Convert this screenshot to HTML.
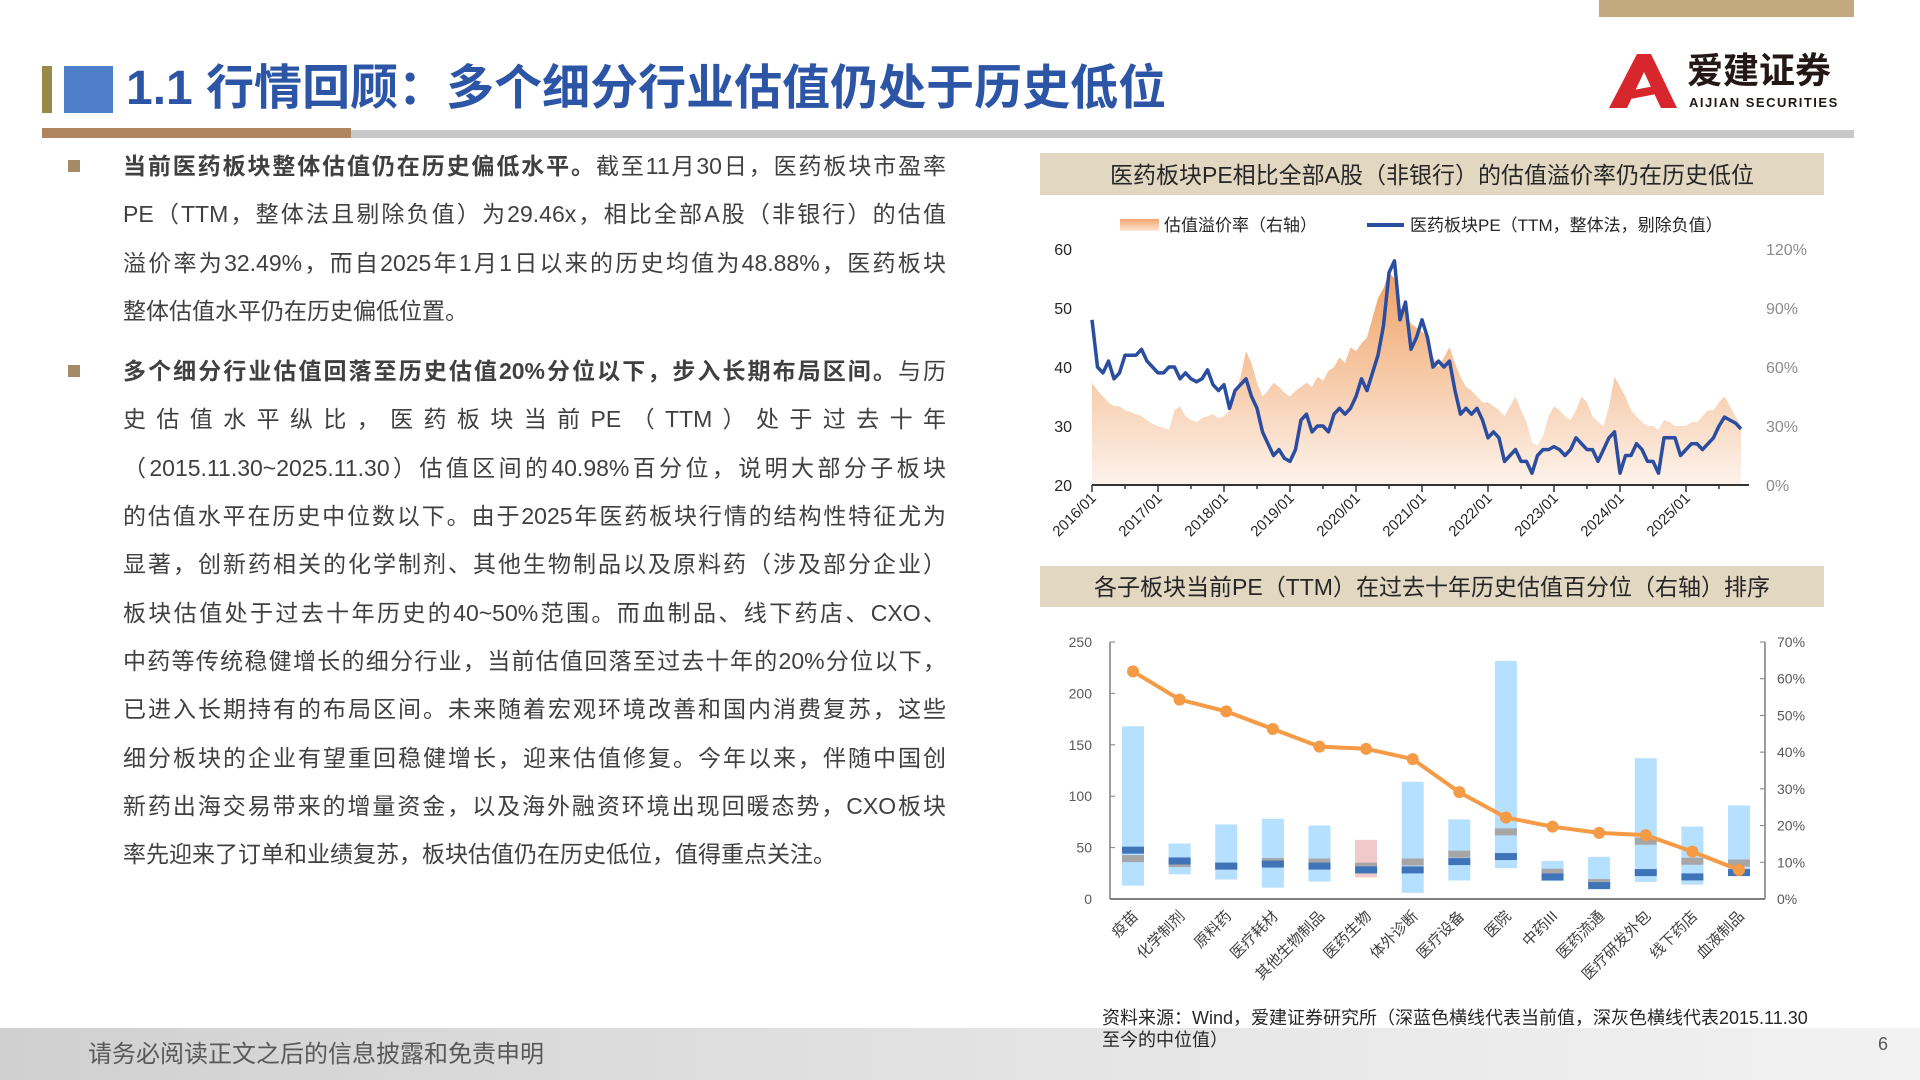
<!DOCTYPE html>
<html><head><meta charset="utf-8">
<style>
html,body{margin:0;padding:0;}
body{width:1920px;height:1080px;position:relative;overflow:hidden;background:#fff;font-family:"Liberation Sans","Noto Sans CJK SC",sans-serif;}
.abs{position:absolute;}
.line{position:absolute;left:123px;width:823px;font-size:23px;color:#404040;white-space:nowrap;text-align:justify;text-align-last:justify;line-height:30px;}
.line.last{text-align-last:left;}
.bul{position:absolute;left:68px;width:12px;height:12px;background:#a58a68;}
b{color:#404040;}
</style></head><body>
<div class="abs" style="left:1599px;top:0;width:255px;height:17px;background:#c3a97e"></div>
<div class="abs" style="left:42px;top:66px;width:10px;height:47px;background:#9a8a4a"></div>
<div class="abs" style="left:64px;top:66px;width:49px;height:47px;background:#4f7fc8"></div>
<div class="abs" style="left:126px;top:59px;font-size:48px;font-weight:bold;color:#2c55a6;line-height:60px;white-space:nowrap">1.1 行情回顾：多个细分行业估值仍处于历史低位</div>
<div class="abs" style="left:1609px;top:52px;width:245px;height:60px">
<svg width="70" height="56" style="position:absolute;left:0;top:2px"><polygon points="0,54 28,0 42,0 68,54 52,54 35,18 18,54" fill="#d7262c"/><polygon points="14,38 56,30 58,38 16,46" fill="#d7262c"/></svg>
<div style="position:absolute;left:78px;top:-2px;font-size:36px;font-weight:bold;color:#231815;line-height:42px;white-space:nowrap">爱建证券</div>
<div style="position:absolute;left:80px;top:43px;font-size:13px;font-weight:bold;color:#231815;letter-spacing:1.5px;white-space:nowrap">AIJIAN SECURITIES</div>
</div>
<div class="abs" style="left:42px;top:130px;width:1812px;height:8px;background:#c8c8c8"></div>
<div class="abs" style="left:42px;top:128px;width:309px;height:10px;background:#b08660"></div>

<div class="bul" style="top:160px"></div>
<div class="line" style="top:151px"><b>当前医药板块整体估值仍在历史偏低水平。</b>截至11月30日，医药板块市盈率</div>
<div class="line" style="top:199px">PE（TTM，整体法且剔除负值）为29.46x，相比全部A股（非银行）的估值</div>
<div class="line" style="top:248px">溢价率为32.49%，而自2025年1月1日以来的历史均值为48.88%，医药板块</div>
<div class="line last" style="top:296px">整体估值水平仍在历史偏低位置。</div>
<div class="bul" style="top:365px"></div>
<div class="line" style="top:356px"><b>多个细分行业估值回落至历史估值20%分位以下，步入长期布局区间。</b>与历</div>
<div class="line" style="top:404px">史估值水平纵比，医药板块当前PE（TTM）处于过去十年</div>
<div class="line" style="top:453px">（2015.11.30~2025.11.30）估值区间的40.98%百分位，说明大部分子板块</div>
<div class="line" style="top:501px">的估值水平在历史中位数以下。由于2025年医药板块行情的结构性特征尤为</div>
<div class="line" style="top:549px">显著，创新药相关的化学制剂、其他生物制品以及原料药（涉及部分企业）</div>
<div class="line" style="top:598px">板块估值处于过去十年历史的40~50%范围。而血制品、线下药店、CXO、</div>
<div class="line" style="top:646px">中药等传统稳健增长的细分行业，当前估值回落至过去十年的20%分位以下，</div>
<div class="line" style="top:694px">已进入长期持有的布局区间。未来随着宏观环境改善和国内消费复苏，这些</div>
<div class="line" style="top:743px">细分板块的企业有望重回稳健增长，迎来估值修复。今年以来，伴随中国创</div>
<div class="line" style="top:791px">新药出海交易带来的增量资金，以及海外融资环境出现回暖态势，CXO板块</div>
<div class="line last" style="top:839px">率先迎来了订单和业绩复苏，板块估值仍在历史低位，值得重点关注。</div>

<div class="abs" style="left:0;top:1028px;width:1920px;height:52px;background:linear-gradient(90deg,#d0d0d0,#e6e6e6 60%,#f2f2f2)"></div>
<div class="abs" style="left:88px;top:1034px;font-size:24px;color:#595959;white-space:nowrap">请务必阅读正文之后的信息披露和免责申明</div>
<div class="abs" style="left:1878px;top:1034px;font-size:18px;color:#595959">6</div>

<svg class="abs" style="left:0;top:0" width="1920" height="1080" id="charts">
<defs>
<linearGradient id="ag" x1="0" y1="0" x2="0" y2="1"><stop offset="0" stop-color="#f0a266"/><stop offset="1" stop-color="#fdf3ec"/></linearGradient>
<linearGradient id="lg" x1="0" y1="0" x2="0" y2="1"><stop offset="0" stop-color="#f3a56c"/><stop offset="1" stop-color="#fce6d6"/></linearGradient>
</defs>
<rect x="1040" y="153" width="784" height="42" fill="#e2d8c2"/>
<text x="1432" y="183" text-anchor="middle" font-size="23" fill="#262626">医药板块PE相比全部A股（非银行）的估值溢价率仍在历史低位</text>
<rect x="1040" y="566" width="784" height="41" fill="#e2d8c2"/>
<text x="1432" y="595" text-anchor="middle" font-size="23" fill="#262626">各子板块当前PE（TTM）在过去十年历史估值百分位（右轴）排序</text>
<rect x="1120" y="219" width="39" height="12" fill="url(#lg)"/>
<text x="1164" y="231" font-size="17" fill="#262626">估值溢价率（右轴）</text>
<line x1="1367" y1="225" x2="1404" y2="225" stroke="#2a4da0" stroke-width="4"/>
<text x="1410" y="231" font-size="17" fill="#262626">医药板块PE（TTM，整体法，剔除负值）</text>
<g id="c1"></g><g id="c2"></g>
<text x="1102" y="1024" font-size="18" fill="#262626">资料来源：Wind，爱建证券研究所（深蓝色横线代表当前值，深灰色横线代表2015.11.30</text>
<text x="1102" y="1046" font-size="18" fill="#262626">至今的中位值）</text>
</svg>
<script>
// ---------- Chart 1 data (monthly from 2016/01) ----------
const peSeries = [48,40,39,41,38,39,42,42,42,43,41,40,
39,39,40,40,38,39,38,37.5,38,39.5,37,36,
37,33,36,37,38,35,33,29,27,25,26,24.5,
24,26,31,32,29,30,30,29,32,33,32,33,
35,38,36,39,42,47,56,58,48,51,43,45,
48,45,40,41,40,41,36,32,33,32,33,31,
28,29,28,24,25,26,24,24,22,25,26,26,
26.5,26,25,26,28,27,26,26,24,26,28,29,
22,25,25,27,26,24,24,22,28,28,28,25,
26,27,27,26,27,28,30,31.5,31,30.5,29.5];
const premiumSeries = [52,48,45,42,40,40,38,37,36,35,33,31,
30,29,28,38,40,35,33,32,34,35,36,34,
35,38,45,55,68,62,52,45,48,52,50,47,
45,48,50,52,50,55,53,58,60,65,62,70,
68,72,75,85,95,100,108,105,90,88,82,80,
78,75,65,60,65,70,62,55,50,48,45,42,
42,40,38,35,40,45,38,32,22,20,25,35,
40,38,35,33,38,45,42,35,32,30,40,55,
50,45,38,35,32,30,30,28,33,32,30,30,
30,32,32,35,38,38,42,45,40,35,30];
const yearLabels = ["2016/01","2017/01","2018/01","2019/01","2020/01","2021/01","2022/01","2023/01","2024/01","2025/01"];
const leftTicks1 = [20,30,40,50,60];
const rightTicks1 = ["0%","30%","60%","90%","120%"];
const rightTickVals1 = [0,30,60,90,120];

// ---------- Chart 2 data ----------
const categories = ["疫苗","化学制剂","原料药","医疗耗材","其他生物制品","医药生物","体外诊断","医疗设备","医院","中药III","医药流通","医疗研发外包","线下药店","血液制品"];
const rangeMax = [168,54,72.5,78,71.5,57.5,114,77.4,231.5,37,41,137,70.5,91];
const rangeMin = [13,24,19,11,17,21,6,18,30,17.5,11.4,16.6,14,23.4];
const currentPE = [47.5,37,32,34,32,28.3,28.3,36.4,41.3,21.5,13,25.7,21.5,25.7];
const medianPE = [39.3,34.5,32,36.4,36,31.9,36,43.6,65.3,26,16,56.2,36.7,35];
const percentile = [62,54.3,51.1,46.3,41.5,40.9,38.1,29.1,22.2,19.7,18,17.4,12.9,7.9];
const leftTicks2 = [0,50,100,150,200,250];
const rightTicks2 = [0,10,20,30,40,50,60,70];

const NS="http://www.w3.org/2000/svg";
function mk(parent,tag,attrs,txt){const e=document.createElementNS(NS,tag);for(const k in attrs)e.setAttribute(k,attrs[k]);if(txt!==undefined)e.textContent=txt;parent.appendChild(e);return e;}

// Chart 1
(function(){
const g=document.getElementById('c1');
const X0=1092,X1=1749,YT=249,YB=485,perYear=66;
const xm=i=>X0+i*perYear/12;
const yl=v=>YB-(v-20)/40*(YB-YT);
const yr=v=>YB-v/120*(YB-YT);
let d="M"+xm(0)+","+YB;
premiumSeries.forEach((v,i)=>{d+=" L"+xm(i).toFixed(1)+","+yr(v).toFixed(1);});
d+=" L"+xm(premiumSeries.length-1).toFixed(1)+","+YB+" Z";
const area=mk(g,'path',{d:d,fill:'url(#ag)'});


let p="";
peSeries.forEach((v,i)=>{p+=(i?" L":"M")+xm(i).toFixed(1)+","+yl(v).toFixed(1);});
const ln=mk(g,'path',{d:p,fill:'none',stroke:'#2a4da0','stroke-width':3.5,'stroke-linejoin':'round'});


const ax=mk(g,'line',{x1:X0,y1:YB,x2:X1,y2:YB,stroke:'#333','stroke-width':2});


for(let h=0;h<=19;h++){const x=X0+h*perYear/2;if(x>X1)break;mk(g,'line',{x1:x,y1:YB,x2:x,y2:YB+(h%2?4:7),stroke:'#333','stroke-width':1.5});}
yearLabels.forEach((s,i)=>{const x=X0+i*perYear;const t=mk(g,'text',{x:x+5,y:YB+14,'text-anchor':'end','font-size':15,fill:'#262626',transform:`rotate(-45 ${x+5} ${YB+14})`},s);

});
leftTicks1.forEach(v=>{const t=mk(g,'text',{x:1072,y:yl(v)+6,'text-anchor':'end','font-size':16,fill:'#262626'},v);

});
rightTickVals1.forEach((v,i)=>{const t=mk(g,'text',{x:1766,y:yr(v)+6,'font-size':16,fill:'#8c8c8c'},rightTicks1[i]);

});
})();

// Chart 2
(function(){
const g=document.getElementById('c2');
const XL=1110,XR=1765,YT=642,YB=899;
const yl=v=>YB-v/250*(YB-YT);
const yr=v=>YB-v/70*(YB-YT);
const step=(1739-1133)/(categories.length-1);
const xc=i=>1133+i*step;
const axc='#7f7f7f';
const la=mk(g,'line',{x1:XL,y1:YT,x2:XL,y2:YB,stroke:axc,'stroke-width':1.5});


const ra=mk(g,'line',{x1:XR,y1:YT,x2:XR,y2:YB,stroke:axc,'stroke-width':1.5});


const ba=mk(g,'line',{x1:XL,y1:YB,x2:XR,y2:YB,stroke:axc,'stroke-width':2});


leftTicks2.forEach(v=>{mk(g,'line',{x1:XL,y1:yl(v),x2:XL+5,y2:yl(v),stroke:axc});
const t=mk(g,'text',{x:1092,y:yl(v)+5,'text-anchor':'end','font-size':14,fill:'#595959'},v);

});
rightTicks2.forEach(v=>{mk(g,'line',{x1:XR-5,y1:yr(v),x2:XR,y2:yr(v),stroke:axc});
const t=mk(g,'text',{x:1777,y:yr(v)+5,'font-size':14,fill:'#595959'},v+'%');

});
const bw=22;
categories.forEach((c,i)=>{
const x=xc(i);
const r=mk(g,'rect',{x:x-bw/2,y:yl(rangeMax[i]),width:bw,height:yl(rangeMin[i])-yl(rangeMax[i]),fill:c==='医药生物'?'#f0caca':'#b5e0ff'});


const m=mk(g,'rect',{x:x-bw/2,y:yl(medianPE[i])-3.5,width:bw,height:7,fill:'#a6a6a6'});


const cu=mk(g,'rect',{x:x-bw/2,y:yl(currentPE[i])-3.5,width:bw,height:7,fill:'#3f74b8'});


const t=mk(g,'text',{x:x+6,y:YB+18,'text-anchor':'end','font-size':15,fill:'#404040',transform:`rotate(-45 ${x+6} ${YB+18})`},c);


});
let p="";
percentile.forEach((v,i)=>{p+=(i?" L":"M")+xc(i).toFixed(1)+","+yr(v).toFixed(1);});
const pl=mk(g,'path',{d:p,fill:'none',stroke:'#f59a45','stroke-width':4,'stroke-linejoin':'round'});


percentile.forEach((v,i)=>{const c=mk(g,'circle',{cx:xc(i),cy:yr(v),r:6,fill:'#f59a45'});

});
})();
</script>
</body></html>
